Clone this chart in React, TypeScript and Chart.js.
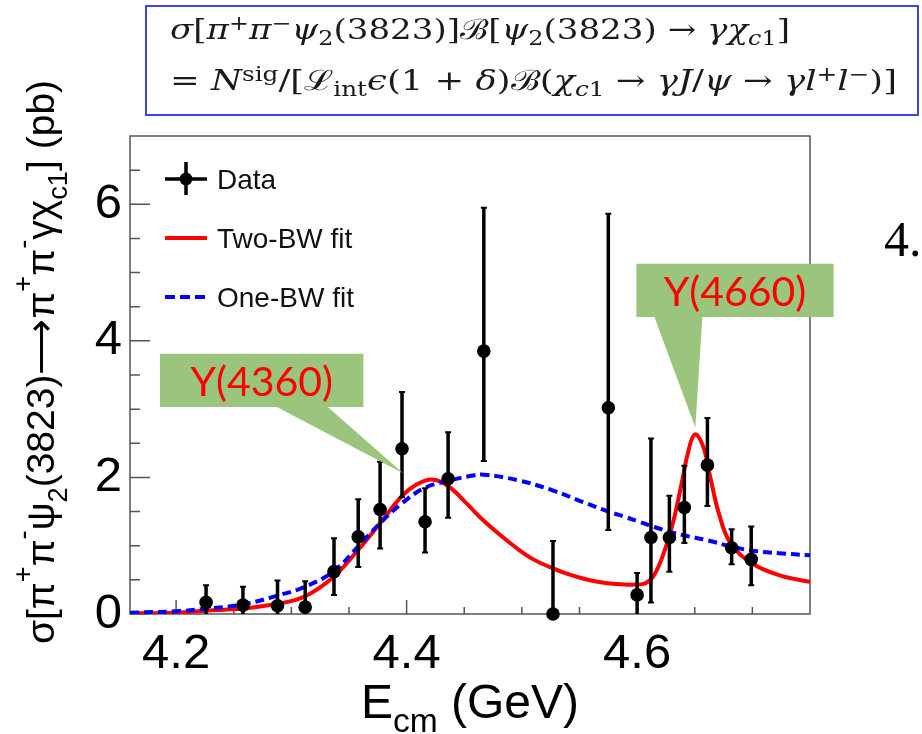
import React, { useEffect, useRef } from 'react';
import { Chart, registerables } from 'chart.js';

Chart.register(...registerables);

// ---------------- data ----------------
const E_CM = [4.226, 4.258, 4.288, 4.312, 4.337, 4.358, 4.377, 4.396, 4.416, 4.436, 4.467, 4.527, 4.575, 4.600, 4.612, 4.628, 4.641, 4.661, 4.682, 4.699];
const SIGMA = [0.17, 0.13, 0.12, 0.10, 0.62, 1.13, 1.53, 2.42, 1.35, 1.98, 3.85, 0.00, 3.02, 0.28, 1.12, 1.12, 1.56, 2.18, 0.97, 0.80];
const SIGMA_HI = [0.42, 0.40, 0.49, 0.48, 1.11, 1.68, 2.23, 3.25, 1.84, 2.66, 5.95, 1.07, 5.86, 0.60, 2.57, 1.73, 2.17, 2.87, 1.24, 1.28];
const SIGMA_LO = [-0.10, -0.10, -0.20, -0.20, 0.28, 0.69, 0.96, 1.71, 0.90, 1.41, 2.24, -0.80, 1.23, -0.10, 0.17, 0.62, 1.04, 1.58, 0.73, 0.42];

const TWO_BW_E = [4.16, 4.2, 4.227, 4.258, 4.288, 4.312, 4.337, 4.358, 4.377, 4.396, 4.408, 4.422, 4.437, 4.452, 4.466, 4.481, 4.495, 4.51, 4.524, 4.539, 4.553, 4.567, 4.582, 4.596, 4.607, 4.614, 4.622, 4.631, 4.638, 4.644, 4.65, 4.657, 4.663, 4.671, 4.681, 4.7, 4.723, 4.75];
const TWO_BW_SIGMA = [0.01, 0.02, 0.05, 0.08, 0.15, 0.26, 0.55, 0.94, 1.33, 1.73, 1.89, 1.97, 1.86, 1.62, 1.38, 1.16, 0.97, 0.80, 0.69, 0.59, 0.52, 0.47, 0.44, 0.43, 0.45, 0.55, 0.84, 1.33, 1.86, 2.35, 2.63, 2.47, 2.04, 1.47, 1.04, 0.74, 0.57, 0.47];

const ONE_BW_E = [4.16, 4.2, 4.227, 4.258, 4.288, 4.312, 4.337, 4.358, 4.377, 4.396, 4.416, 4.436, 4.455, 4.467, 4.496, 4.525, 4.553, 4.575, 4.59, 4.6, 4.612, 4.627, 4.641, 4.661, 4.681, 4.699, 4.723, 4.75];
const ONE_BW_SIGMA = [0.02, 0.04, 0.08, 0.14, 0.27, 0.40, 0.63, 0.99, 1.33, 1.62, 1.85, 1.95, 2.02, 2.04, 1.96, 1.82, 1.64, 1.50, 1.42, 1.36, 1.29, 1.21, 1.15, 1.08, 0.99, 0.93, 0.89, 0.86];

const X_RANGE = [4.16, 4.75];
const Y_RANGE = [0, 7];
const X_MAJOR = [4.2, 4.4, 4.6];
const X_MINOR = [4.25, 4.3, 4.35, 4.45, 4.5, 4.55, 4.65, 4.7];
const Y_MAJOR = [0, 2, 4, 6];
const Y_MINOR = [0.5, 1, 1.5, 2.5, 3, 3.5, 4.5, 5, 5.5, 6.5];

const LEGEND_LABELS = ['Data', 'Two-BW fit', 'One-BW fit'];

const CALLOUT_LABELS = ['Y(4360)', 'Y(4660)'];
const CALLOUT_TIP_E = [4.397, 4.6505];
const CALLOUT_TIP_SIGMA = [2.06, 2.73];
const CALLOUT_BOX_E = [[4.186, 4.3625], [4.5993, 4.7705]];
const CALLOUT_BOX_SIGMA = [[3.03, 3.81], [4.35, 5.13]];
const CALLOUT_BASE_E = [[4.2874, 4.3316], [4.615, 4.6566]];

// ---------------- styling / layout ----------------
const SANS = "'Liberation Sans', Arial, Helvetica, sans-serif";
const GREEN = 'rgb(155,196,125)';
const FRAME = '#555555';
const FORMULA_WIDTHS = [620, 727];

type Seg = [string, number]; // 0 normal, 1 sup, 2 sub

function drawRich(ctx: any, segs: Seg[], x: number, y: number, size: number, align: string, subDy: number, supDy: number) {
  const parts = segs.map(([t, k]) => ({ t, k, fs: k ? size * 0.7 : size, w: 0 }));
  let total = 0;
  for (const p of parts) {
    ctx.font = `${p.fs}px ${SANS}`;
    p.w = ctx.measureText(p.t).width;
    total += p.w;
  }
  let cx = align === 'center' ? x - total / 2 : x;
  ctx.textAlign = 'left';
  ctx.textBaseline = 'alphabetic';
  for (const p of parts) {
    ctx.font = `${p.fs}px ${SANS}`;
    const dy = p.k === 1 ? supDy : p.k === 2 ? subDy : 0;
    ctx.fillText(p.t, cx, y + dy);
    cx += p.w;
  }
  return total;
}

const Y_TITLE: Seg[] = [
  ['σ[π', 0], ['+', 1], ['π', 0], ['-', 1], ['ψ', 0], ['2', 2], ['(3823)⟶π', 0], ['+', 1], ['π', 0], ['-', 1], ['γχ', 0], ['c1', 2], ['] (pb)', 0],
];
const X_TITLE: Seg[] = [['E', 0], ['cm', 2], [' (GeV)', 0]];

const overlayPlugin = {
  id: 'rootStyle',
  beforeDatasetsDraw(chart: any) {
    const { ctx, chartArea } = chart;
    const { left, right, top, bottom } = chartArea;
    const xs = chart.scales.x;
    const ys = chart.scales.y;
    ctx.save();
    ctx.strokeStyle = FRAME;
    ctx.lineWidth = 1.5;
    ctx.strokeRect(left, top, right - left, bottom - top);
    ctx.beginPath();
    for (const v of X_MAJOR) {
      const px = xs.getPixelForValue(v);
      ctx.moveTo(px, bottom);
      ctx.lineTo(px, bottom - 14);
    }
    for (const v of X_MINOR) {
      const px = xs.getPixelForValue(v);
      ctx.moveTo(px, bottom);
      ctx.lineTo(px, bottom - 7);
    }
    for (const v of Y_MAJOR) {
      const py = ys.getPixelForValue(v);
      ctx.moveTo(left, py);
      ctx.lineTo(left + 20, py);
    }
    for (const v of Y_MINOR) {
      const py = ys.getPixelForValue(v);
      ctx.moveTo(left, py);
      ctx.lineTo(left + 10, py);
    }
    ctx.stroke();
    ctx.restore();
  },
  beforeDatasetDraw(chart: any, args: any) {
    if (args.index !== 0) return;
    const { ctx, chartArea } = chart;
    const xs = chart.scales.x;
    const ys = chart.scales.y;
    ctx.save();
    ctx.beginPath();
    ctx.rect(chartArea.left, chartArea.top, chartArea.right - chartArea.left, chartArea.bottom - chartArea.top);
    ctx.clip();
    ctx.strokeStyle = '#000';
    ctx.lineWidth = 3.5;
    ctx.beginPath();
    E_CM.forEach((e, i) => {
      const px = xs.getPixelForValue(e);
      ctx.moveTo(px, ys.getPixelForValue(SIGMA_HI[i]));
      ctx.lineTo(px, ys.getPixelForValue(SIGMA_LO[i]));
    });
    ctx.stroke();
    ctx.lineWidth = 2;
    ctx.beginPath();
    E_CM.forEach((e, i) => {
      const px = xs.getPixelForValue(e);
      const pyH = ys.getPixelForValue(SIGMA_HI[i]);
      ctx.moveTo(px - 3, pyH);
      ctx.lineTo(px + 3, pyH);
      if (SIGMA_LO[i] > 0) {
        const pyL = ys.getPixelForValue(SIGMA_LO[i]);
        ctx.moveTo(px - 3, pyL);
        ctx.lineTo(px + 3, pyL);
      }
    });
    ctx.stroke();
    ctx.restore();
  },
  afterDraw(chart: any) {
    const { ctx, chartArea } = chart;
    const xs = chart.scales.x;
    const ys = chart.scales.y;
    const L = chartArea.left;
    const T = chartArea.top;
    ctx.save();

    // ---- legend ----
    const sx0 = L + 35, sx1 = L + 77, tx = L + 87;
    const rowY = [T + 43, T + 102, T + 161];
    ctx.strokeStyle = '#000';
    ctx.lineWidth = 3.5;
    ctx.beginPath();
    ctx.moveTo(sx0, rowY[0]);
    ctx.lineTo(sx1, rowY[0]);
    ctx.moveTo((sx0 + sx1) / 2, rowY[0] - 17);
    ctx.lineTo((sx0 + sx1) / 2, rowY[0] + 16);
    ctx.stroke();
    ctx.fillStyle = '#000';
    ctx.beginPath();
    ctx.arc((sx0 + sx1) / 2, rowY[0], 6.5, 0, Math.PI * 2);
    ctx.fill();
    ctx.strokeStyle = '#ff0000';
    ctx.lineWidth = 4;
    ctx.beginPath();
    ctx.moveTo(sx0, rowY[1]);
    ctx.lineTo(sx1, rowY[1]);
    ctx.stroke();
    ctx.strokeStyle = '#0000ff';
    ctx.setLineDash([10, 5]);
    ctx.beginPath();
    ctx.moveTo(sx0, rowY[2]);
    ctx.lineTo(sx1, rowY[2]);
    ctx.stroke();
    ctx.setLineDash([]);
    ctx.fillStyle = '#111';
    ctx.font = `28px ${SANS}`;
    ctx.textAlign = 'left';
    ctx.textBaseline = 'alphabetic';
    LEGEND_LABELS.forEach((lab, i) => ctx.fillText(lab, tx, rowY[i] + 10));

    // ---- callouts ----
    CALLOUT_LABELS.forEach((lab, i) => {
      const x0 = xs.getPixelForValue(CALLOUT_BOX_E[i][0]);
      const x1 = xs.getPixelForValue(CALLOUT_BOX_E[i][1]);
      const y0 = ys.getPixelForValue(CALLOUT_BOX_SIGMA[i][0]);
      const y1 = ys.getPixelForValue(CALLOUT_BOX_SIGMA[i][1]);
      const bl = xs.getPixelForValue(CALLOUT_BASE_E[i][0]);
      const br = xs.getPixelForValue(CALLOUT_BASE_E[i][1]);
      const tipX = xs.getPixelForValue(CALLOUT_TIP_E[i]);
      const tipY = ys.getPixelForValue(CALLOUT_TIP_SIGMA[i]);
      ctx.fillStyle = GREEN;
      ctx.beginPath();
      ctx.moveTo(x0, y1);
      ctx.lineTo(x1, y1);
      ctx.lineTo(x1, y0);
      ctx.lineTo(br, y0);
      ctx.lineTo(tipX, tipY);
      ctx.lineTo(bl, y0);
      ctx.lineTo(x0, y0);
      ctx.closePath();
      ctx.fill();
      ctx.fillStyle = '#ff0000';
      ctx.font = "41px Lato, 'Open Sans', sans-serif";
      ctx.textAlign = 'center';
      ctx.textBaseline = 'alphabetic';
      ctx.fillText(lab, (x0 + x1) / 2, (y0 + y1) / 2 + 16);
    });

    // ---- axis titles ----
    ctx.fillStyle = '#000';
    drawRich(ctx, X_TITLE, (chartArea.left + chartArea.right) / 2, 718, 48, 'center', 14, -22);
    ctx.save();
    ctx.translate(54, 362);
    ctx.rotate(-Math.PI / 2);
    drawRich(ctx, Y_TITLE, 0, 0, 39, 'center', 13, -22);
    ctx.restore();

    ctx.restore();
  },
};

const sup = (t: string) => <span style={{ fontSize: '0.7em', position: 'relative', top: '-0.45em' }}>{t}</span>;
const sub = (t: any) => <span style={{ fontSize: '0.7em', position: 'relative', top: '0.3em' }}>{t}</span>;
const it = (t: string) => <span style={{ fontStyle: 'italic' }}>{t}</span>;

export default function App() {
  const canvasRef = useRef<HTMLCanvasElement>(null);
  const line1Ref = useRef<HTMLDivElement>(null);
  const line2Ref = useRef<HTMLDivElement>(null);

  useEffect(() => {
    const fit = (el: HTMLDivElement | null, target: number) => {
      if (!el) return;
      el.style.transform = 'none';
      const w = el.getBoundingClientRect().width;
      if (w > 0) el.style.transform = `scaleX(${target / w})`;
    };
    fit(line1Ref.current, FORMULA_WIDTHS[0]);
    fit(line2Ref.current, FORMULA_WIDTHS[1]);

    const canvas = canvasRef.current;
    if (!canvas) return;
    const chart = new Chart(canvas, {
      type: 'scatter',
      data: {
        datasets: [
          {
            label: LEGEND_LABELS[0],
            data: E_CM.map((x, i) => ({ x, y: SIGMA[i] })),
            showLine: false,
            pointRadius: 6.8,
            pointHoverRadius: 6.8,
            pointBackgroundColor: '#000',
            pointBorderWidth: 0,
            borderColor: '#000',
            backgroundColor: '#000',
            clip: false,
            order: 0,
          },
          {
            label: LEGEND_LABELS[1],
            data: TWO_BW_E.map((x, i) => ({ x, y: TWO_BW_SIGMA[i] })),
            showLine: true,
            borderColor: '#ff0000',
            borderWidth: 4,
            pointRadius: 0,
            tension: 0.4,
            fill: false,
            order: 2,
          },
          {
            label: LEGEND_LABELS[2],
            data: ONE_BW_E.map((x, i) => ({ x, y: ONE_BW_SIGMA[i] })),
            showLine: true,
            borderColor: '#0000ff',
            borderWidth: 4,
            borderDash: [9, 5],
            pointRadius: 0,
            tension: 0.4,
            fill: false,
            order: 1,
          },
        ],
      } as any,
      options: {
        responsive: false,
        animation: false,
        events: [],
        layout: { padding: { left: 0, top: 136, right: 112, bottom: 0 } },
        plugins: { legend: { display: false }, tooltip: { enabled: false }, title: { display: false } },
        scales: {
          x: {
            type: 'linear',
            position: 'bottom',
            min: X_RANGE[0],
            max: X_RANGE[1],
            grid: { display: false, drawTicks: false },
            border: { display: false },
            ticks: {
              font: { family: SANS, size: 49 },
              color: '#000',
              padding: 11,
              maxRotation: 0,
              autoSkip: false,
              callback: (v: any) => Number(v).toFixed(1),
            },
            afterBuildTicks: (s: any) => { s.ticks = X_MAJOR.map((v) => ({ value: v })); },
            afterFit: (s: any) => { s.height = 120; },
          },
          y: {
            type: 'linear',
            min: Y_RANGE[0],
            max: Y_RANGE[1],
            grid: { display: false, drawTicks: false },
            border: { display: false },
            ticks: {
              font: { family: SANS, size: 49 },
              color: '#000',
              padding: 8,
              autoSkip: false,
              callback: (v: any) => String(v),
            },
            afterBuildTicks: (s: any) => { s.ticks = Y_MAJOR.map((v) => ({ value: v })); },
            afterFit: (s: any) => { s.width = 130; },
          },
        },
      } as any,
      plugins: [overlayPlugin as any],
    });
    return () => chart.destroy();
  }, []);

  const formulaFont: any = {
    position: 'absolute',
    left: 170,
    fontFamily: "'DejaVu Serif', 'Liberation Serif', serif",
    fontSize: 28,
    lineHeight: '28px',
    whiteSpace: 'nowrap',
    color: '#1a1a1a',
    transformOrigin: '0 0',
  };

  return (
    <div style={{ position: 'absolute', left: 0, top: 0, width: 922, height: 734, background: '#fff', overflow: 'hidden' }}>
      <canvas ref={canvasRef} width={922} height={734} style={{ position: 'absolute', left: 0, top: 0, width: 922, height: 734 }} />
      <div style={{ position: 'absolute', left: 145, top: 5, width: 774, height: 111, border: '2px solid rgb(60,70,235)', boxSizing: 'border-box' }} />
      <div ref={line1Ref} style={{ ...formulaFont, top: 16 }}>
        {it('σ')}[{it('π')}{sup('+')}{it('π')}{sup('−')}{it('ψ')}{sub('2')}(3823)]ℬ[{it('ψ')}{sub('2')}(3823) → {it('γχ')}{sub(<>{it('c')}1</>)}]
      </div>
      <div ref={line2Ref} style={{ ...formulaFont, top: 67 }}>
        = {it('N')}{sup('sig')}/[ℒ{sub('int')}{it('ϵ')}(1 + {it('δ')})ℬ({it('χ')}{sub(<>{it('c')}1</>)} → {it('γJ')}/{it('ψ')} → {it('γl')}{sup('+')}{it('l')}{sup('−')})]
      </div>
      <div style={{ position: 'absolute', left: 884, top: 214, fontFamily: "'Liberation Serif', 'Times New Roman', serif", fontSize: 50, lineHeight: '50px', color: '#000' }}>4.</div>
    </div>
  );
}
